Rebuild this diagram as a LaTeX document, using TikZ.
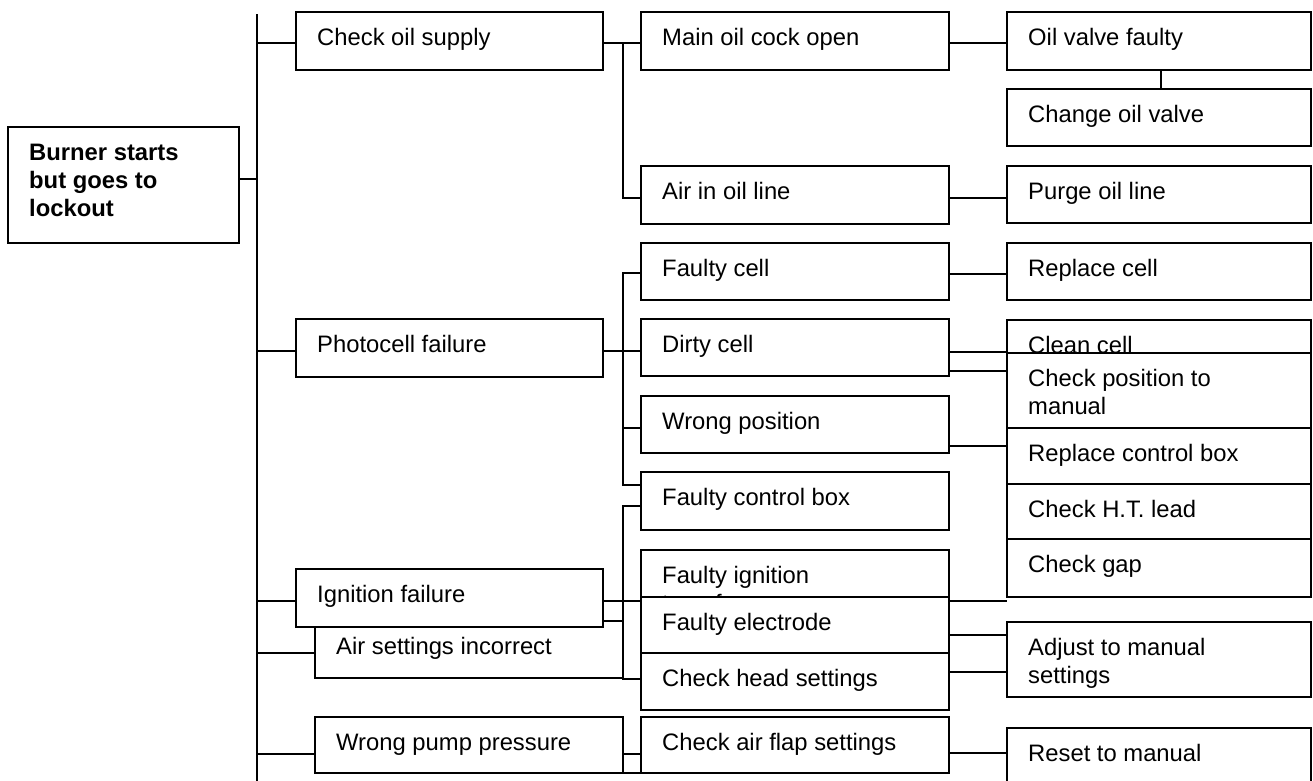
\documentclass[tikz,border=0pt]{standalone}
\usepackage{fontspec}
\setmainfont{Liberation Sans}
\usetikzlibrary{calc}
\newcommand\mkbox[7][0]{%
  \node[bx, minimum width={#5-#3}, minimum height={#6-#4}] (#2) at ({(#3+#5)/2},{(#4+#6)/2}) {};
  \node[lbl] (#2-t) at ($(#2.north west)+(21,{33+28*#1})$) {#7};}
\begin{document}
\begin{tikzpicture}[x=1pt,y=-1pt,
  bx/.style={draw, fill=white, line width=1.8pt, inner sep=0pt, outer sep=0pt, rectangle},
  lbl/.style={anchor=base west, inner sep=0pt, align=left, font=\fontsize{23.8}{28}\selectfont},
  conn/.style={draw, line width=1.1pt}]
\useasboundingbox (0,0) rectangle (1313,780);
\coordinate (tr) at (257,0);
\coordinate (b1) at (623,0);
% trunk
\draw[conn] ($(tr)+(0,14)$) -- ($(tr)+(0,790)$);
% boxes
\mkbox[2]{root}{8}{127}{239}{243}{\bfseries Burner starts\\\bfseries but goes to\\\bfseries lockout}
\mkbox{cos}{296}{12}{603}{70}{Check oil supply}
\mkbox{moc}{641}{12}{949}{70}{Main oil cock open}
\mkbox{ovf}{1007}{12}{1311}{70}{Oil valve faulty}
\mkbox{cov}{1007}{89}{1311}{146}{Change oil valve}
\mkbox{aio}{641}{166}{949}{224}{Air in oil line}
\mkbox{pol}{1007}{166}{1311}{223}{Purge oil line}
\mkbox{fc}{641}{243}{949}{300}{Faulty cell}
\mkbox{rc}{1007}{243}{1311}{300}{Replace cell}
\mkbox{pf}{296}{319}{603}{377}{Photocell failure}
\mkbox{dc}{641}{319}{949}{376}{Dirty cell}
\mkbox{cc}{1007}{320}{1311}{377}{Clean cell}
\mkbox[1]{cp}{1007}{353}{1311}{428}{Check position to\\manual}
\mkbox{wp}{641}{396}{949}{453}{Wrong position}
\mkbox{rcb}{1007}{428}{1311}{484}{Replace control box}
\mkbox{fcb}{641}{472}{949}{530}{Faulty control box}
\mkbox{cht}{1007}{484}{1311}{539}{Check H.T. lead}
\mkbox{cg}{1007}{539}{1311}{597}{Check gap}
\mkbox[1]{fi}{641}{550}{949}{607}{Faulty ignition\\transformer}
\mkbox{asi}{315}{621}{623}{678}{Air settings incorrect}
\mkbox{if}{296}{569}{603}{627}{Ignition failure}
\mkbox{fe}{641}{597}{949}{653}{Faulty electrode}
\mkbox{chs}{641}{653}{949}{710}{Check head settings}
\mkbox[1]{atm}{1007}{622}{1311}{697}{Adjust to manual\\settings}
\mkbox{wpp}{315}{717}{623}{773}{Wrong pump pressure}
\mkbox{cafs}{641}{717}{949}{773}{Check air flap settings}
\mkbox{rtm}{1007}{728}{1311}{790}{Reset to manual}
% connectors from trunk
\draw[conn] ($(root.north east)+(0,52)$) -- ($(tr)+(0,179)$);
\draw[conn] ($(tr)+(0,43)$) -- ($(cos.north west)+(0,31)$);
\draw[conn] ($(tr)+(0,351)$) -- ($(pf.north west)+(0,32)$);
\draw[conn] ($(tr)+(0,601)$) -- ($(if.north west)+(0,32)$);
\draw[conn] ($(tr)+(0,653)$) -- ($(asi.north west)+(0,32)$);
\draw[conn] ($(tr)+(0,754)$) -- ($(wpp.north west)+(0,37)$);
% oil supply branch
\draw[conn] ($(cos.north east)+(0,31)$) -- ($(moc.north west)+(0,31)$);
\draw[conn] ($(b1)+(0,43)$) |- ($(aio.north west)+(0,32)$);
\draw[conn] ($(moc.north east)+(0,31)$) -- ($(ovf.north west)+(0,31)$);
\draw[conn] ($(ovf.south west)+(154,0)$) -- ($(cov.north west)+(154,0)$);
\draw[conn] ($(aio.north east)+(0,32)$) -- ($(pol.north west)+(0,32)$);
% photocell branch
\draw[conn] ($(pf.north east)+(0,32)$) -- ($(dc.north west)+(0,32)$);
\draw[conn] ($(fc.north west)+(0,30)$) -| ($(b1)+(0,485)$) -- ($(fcb.north west)+(0,13)$);
\draw[conn] ($(b1)+(0,428)$) -- ($(wp.north west)+(0,32)$);
\draw[conn] ($(fc.north east)+(0,31)$) -- ($(rc.north west)+(0,31)$);
\draw[conn] ($(dc.north east)+(0,33)$) -- ($(cc.north west)+(0,32)$);
\draw[conn] ($(dc.north east)+(0,52)$) -- ($(cp.north west)+(0,18)$);
\draw[conn] ($(wp.north east)+(0,50)$) -- ($(rcb.north west)+(0,18)$);
% ignition branch
\draw[conn] ($(if.north east)+(0,32)$) -- ($(fi.north west)+(0,51)$);
\draw[conn] ($(fcb.north west)+(0,34)$) -| ($(b1)+(0,679)$) -- ($(chs.north west)+(0,26)$);
\draw[conn] ($(fi.north east)+(0,51)$) -- ($(cg.south west)+(0,4)$);
\draw[conn] ($(fe.north east)+(0,38)$) -- ($(atm.north west)+(0,13)$);
\draw[conn] ($(chs.north east)+(0,19)$) -- ($(atm.north west)+(0,50)$);
% pump branch
\draw[conn] ($(wpp.north east)+(0,37)$) -- ($(cafs.north west)+(0,37)$);
\draw[conn] (wpp.south east) -- (cafs.south west);
\draw[conn] ($(cafs.north east)+(0,36)$) -- ($(rtm.north west)+(0,25)$);
\end{tikzpicture}
\end{document}
